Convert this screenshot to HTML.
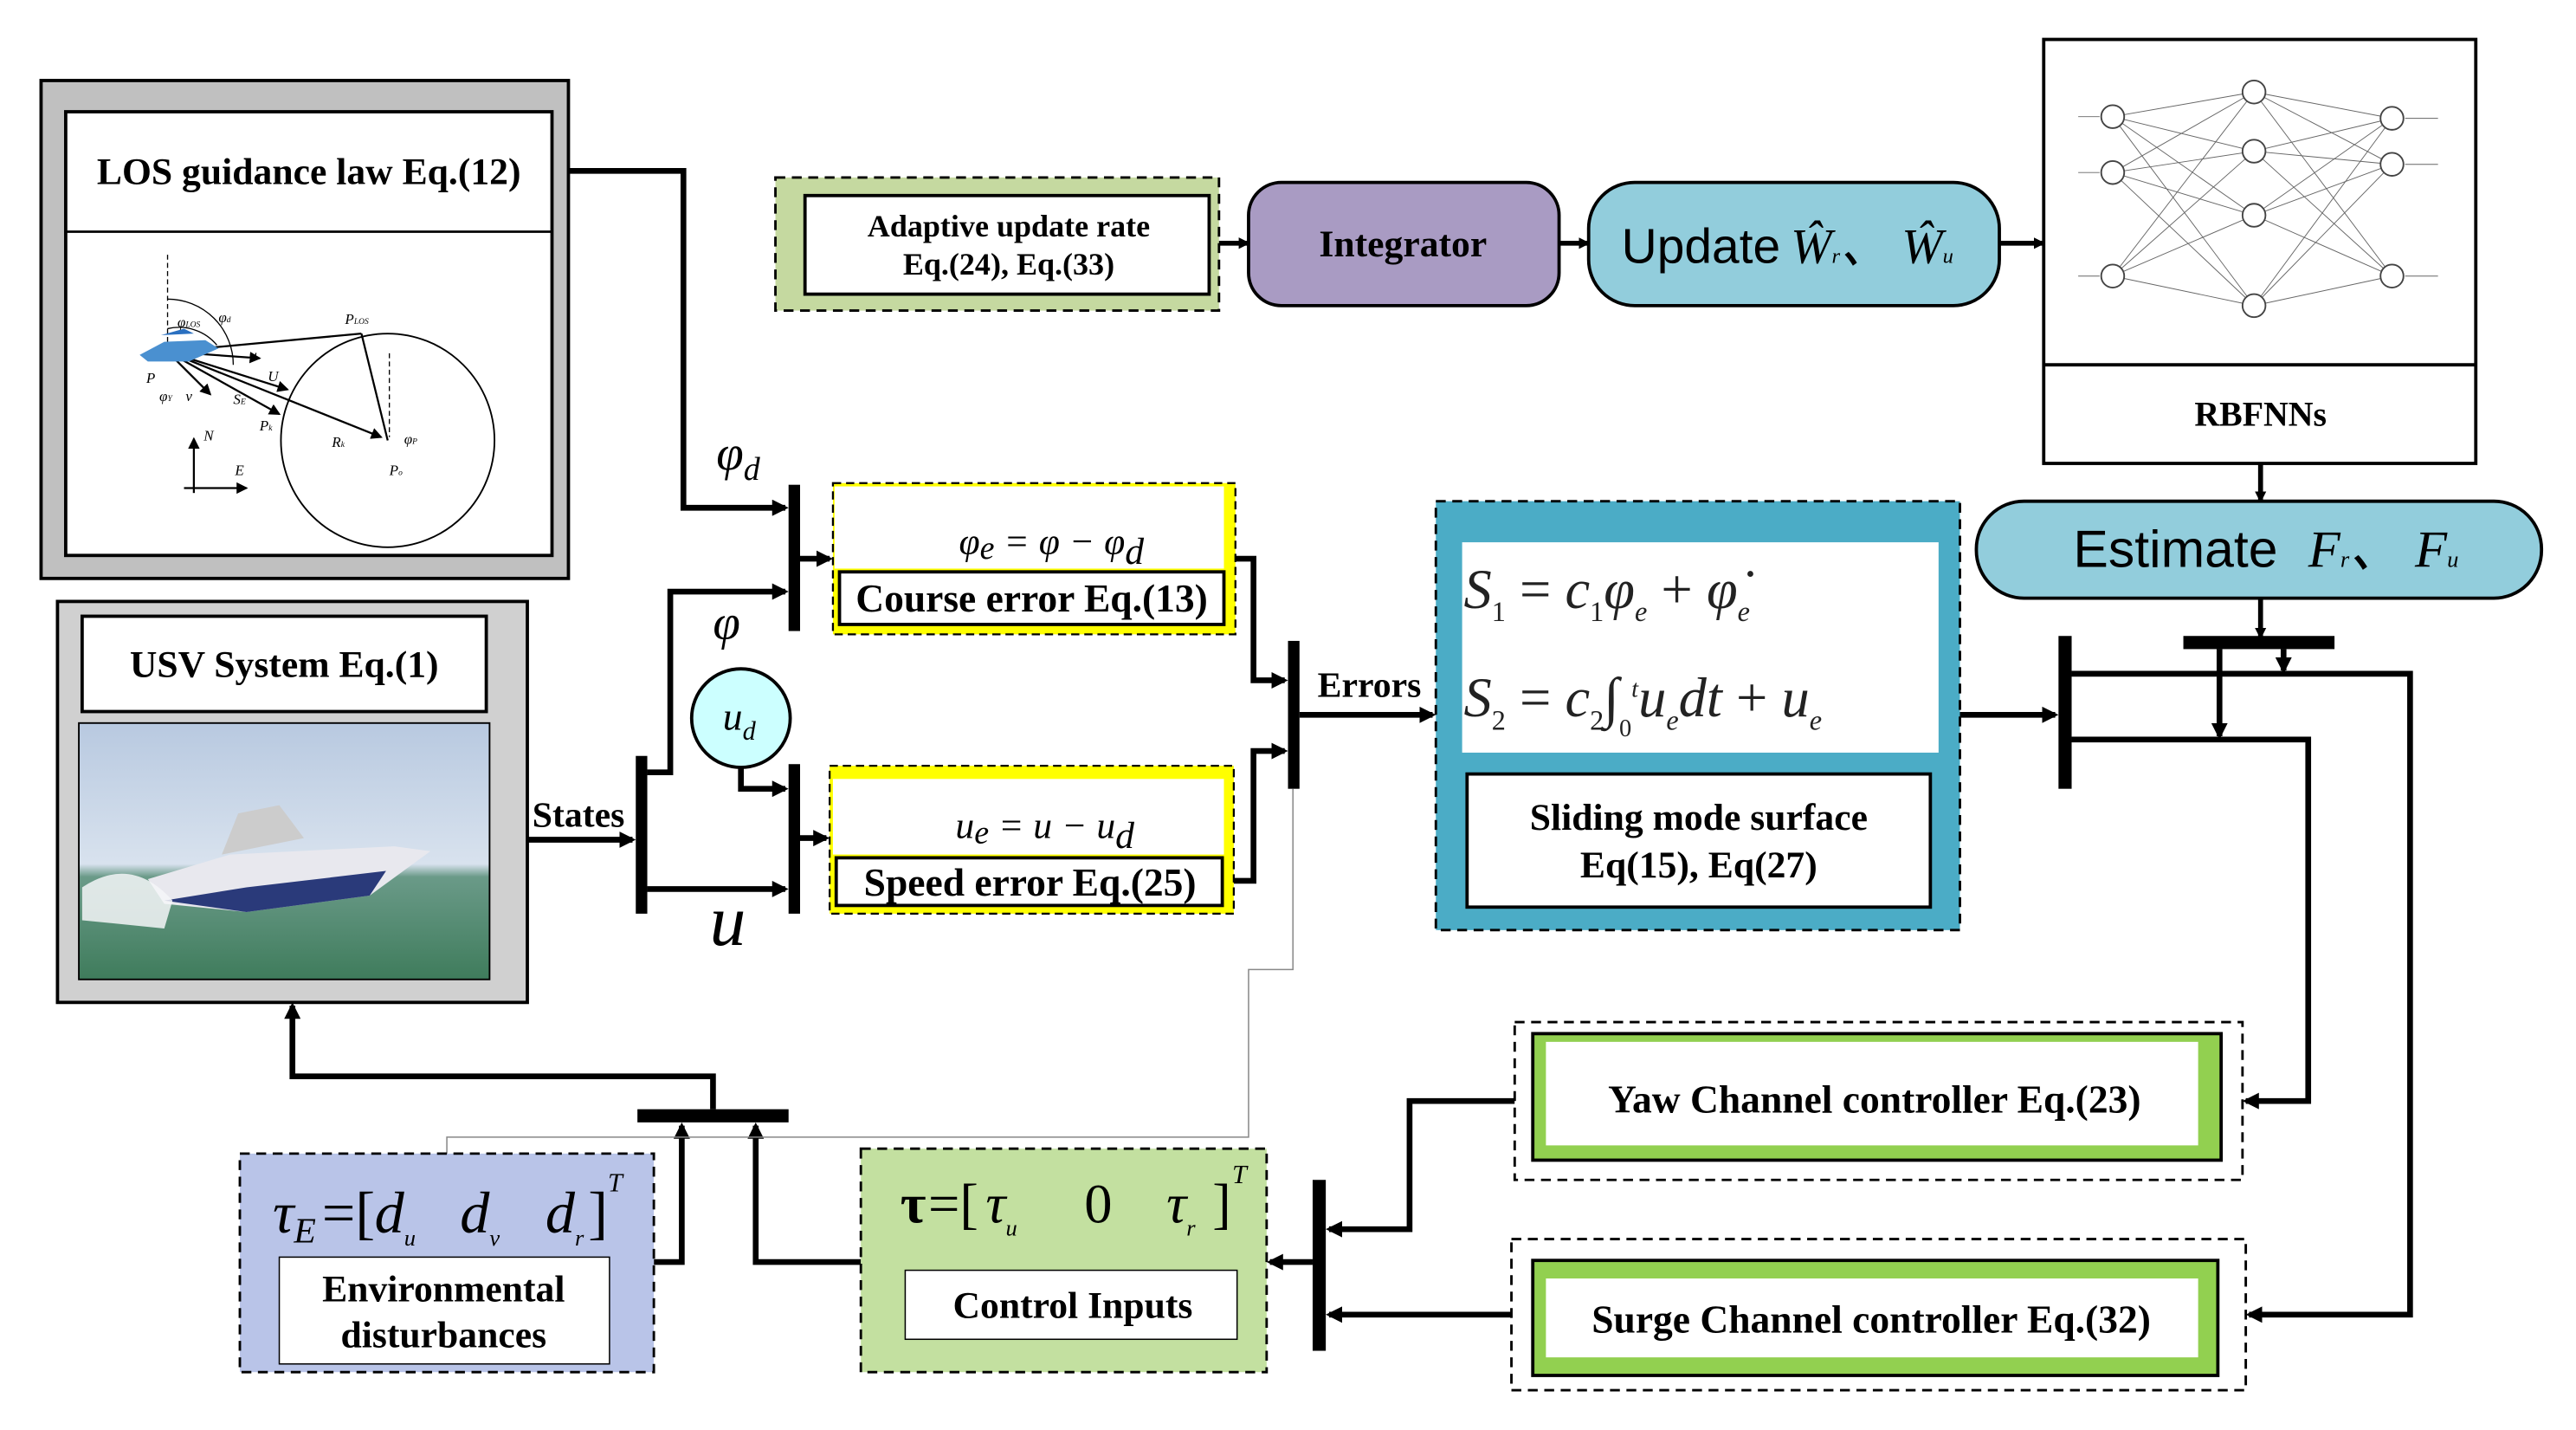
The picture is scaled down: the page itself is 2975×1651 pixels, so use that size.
<!DOCTYPE html>
<html><head><meta charset="utf-8"><style>html,body{margin:0;padding:0;background:#fff}svg{display:block}</style></head>
<body>
<svg width="2975" height="1651" viewBox="0 0 1568 870.2" preserveAspectRatio="none" xmlns="http://www.w3.org/2000/svg" font-family="Liberation Serif, serif">
<defs>
<marker id="a" markerWidth="10" markerHeight="10" refX="8" refY="5" orient="auto" markerUnits="userSpaceOnUse"><path d="M0,0 L10,5 L0,10 z" fill="#000"/></marker>
<marker id="s" markerWidth="7" markerHeight="7" refX="6" refY="3.5" orient="auto" markerUnits="userSpaceOnUse"><path d="M0,0 L7,3.5 L0,7 z" fill="#000"/></marker>
<linearGradient id="sky" x1="0" y1="0" x2="0" y2="1"><stop offset="0" stop-color="#b8c9e0"/><stop offset="0.55" stop-color="#d8e2ee"/><stop offset="0.6" stop-color="#6a9a88"/><stop offset="1" stop-color="#3f7c5c"/></linearGradient>
</defs>
<rect width="1568" height="871" fill="#fff"/>

<!-- LOS box -->
<rect x="25" y="49" width="321" height="303" fill="#c0c0c0" stroke="#000" stroke-width="2"/>
<rect x="40" y="68" width="296" height="270" fill="#fff" stroke="#000" stroke-width="2"/>
<line x1="40" y1="141" x2="336" y2="141" stroke="#000" stroke-width="1.5"/>
<text x="188" y="112" font-size="23" font-weight="bold" text-anchor="middle">LOS guidance law Eq.(12)</text>
<g stroke="#000" fill="none">
<line x1="102" y1="155" x2="102" y2="212" stroke-dasharray="3,2" stroke-width="0.7"/>
<circle cx="236" cy="268" r="65" stroke-width="1"/>
<line x1="237" y1="215" x2="237" y2="266" stroke-dasharray="3,2" stroke-width="0.7"/>
<path d="M102,182 A40,40 0 0 1 142,222" stroke-width="0.7"/>
<path d="M102,200 A30,30 0 0 1 132,210" stroke-width="0.7"/>
<line x1="102" y1="214" x2="220" y2="203" stroke-width="1.2"/>
<line x1="220" y1="203" x2="236" y2="268" stroke-width="1.2"/>
<line x1="102" y1="214" x2="232" y2="266" stroke-width="1.2" marker-end="url(#s)"/>
<line x1="102" y1="214" x2="158" y2="218" stroke-width="1.2" marker-end="url(#s)"/>
<line x1="102" y1="214" x2="175" y2="237" stroke-width="1.2" marker-end="url(#s)"/>
<line x1="102" y1="214" x2="128" y2="240" stroke-width="1.2" marker-end="url(#s)"/>
<line x1="102" y1="214" x2="170" y2="252" stroke-width="1.2" marker-end="url(#s)"/>
<line x1="118" y1="300" x2="118" y2="267" stroke-width="1.2" marker-end="url(#s)"/>
<line x1="112" y1="297" x2="150" y2="297" stroke-width="1.2" marker-end="url(#s)"/>
</g>
<path d="M85,216 L100,208 L125,207 L133,212 L115,220 L90,220 z" fill="#4a90d0"/>
<path d="M98,204 L112,200 L118,203 z" fill="#2a70c0"/>
<g font-size="9" font-style="italic">
<text x="89" y="233">P</text><text x="108" y="199">φ<tspan font-size="5">LOS</tspan></text><text x="133" y="196">φ<tspan font-size="5">d</tspan></text>
<text x="152" y="219">u</text><text x="163" y="232">U</text><text x="142" y="246">S<tspan font-size="5">E</tspan></text><text x="158" y="262">P<tspan font-size="5">k</tspan></text>
<text x="202" y="272">R<tspan font-size="5">k</tspan></text><text x="210" y="197">P<tspan font-size="5">LOS</tspan></text><text x="246" y="270">φ<tspan font-size="5">P</tspan></text><text x="237" y="289">P<tspan font-size="5">o</tspan></text>
<text x="97" y="244">φ<tspan font-size="5">Y</tspan></text><text x="113" y="244">v</text><text x="124" y="268">N</text><text x="143" y="289">E</text>
</g>

<!-- USV box -->
<rect x="35" y="366" width="286" height="244" fill="#d0d0d0" stroke="#000" stroke-width="2"/>
<rect x="50" y="375" width="246" height="58" fill="#fff" stroke="#000" stroke-width="2"/>
<text x="173" y="412" font-size="23" font-weight="bold" text-anchor="middle">USV System Eq.(1)</text>
<rect x="48" y="440" width="250" height="156" fill="url(#sky)" stroke="#000" stroke-width="1"/>
<path d="M90,535 L140,520 L240,515 L262,518 L225,545 L150,555 L100,550 z" fill="#e8e8ee"/>
<path d="M100,548 L150,540 L235,530 L225,545 L150,555 z" fill="#2a3a7a"/>
<path d="M135,520 L145,495 L170,490 L185,510 z" fill="#ccc"/>
<path d="M50,540 Q80,520 105,548 L100,565 L50,560 z" fill="#f4f6f8" opacity="0.85"/>

<!-- top row -->
<rect x="472" y="108" width="270" height="81" fill="#c5d9a0" stroke="#000" stroke-width="1.5" stroke-dasharray="6,4"/>
<rect x="490" y="119" width="246" height="60" fill="#fff" stroke="#000" stroke-width="2"/>
<text x="614" y="144" font-size="19" font-weight="bold" text-anchor="middle">Adaptive update rate</text>
<text x="614" y="167" font-size="19" font-weight="bold" text-anchor="middle">Eq.(24),  Eq.(33)</text>
<rect x="760" y="111" width="189" height="75" rx="20" fill="#a99bc3" stroke="#000" stroke-width="2"/>
<text x="854" y="156" font-size="23" font-weight="bold" text-anchor="middle">Integrator</text>
<rect x="967" y="111" width="250" height="75" rx="28" fill="#92cddc" stroke="#000" stroke-width="2"/>
<text x="987" y="160" font-size="30" font-family="Liberation Sans, sans-serif">Update</text>
<text x="1090" y="160" font-size="30" font-style="italic">Ŵ<tspan font-size="13">r</tspan>、 Ŵ<tspan font-size="13">u</tspan></text>
<line x1="742" y1="148" x2="760" y2="148" stroke="#000" stroke-width="3" marker-end="url(#s)"/>
<line x1="949" y1="148" x2="967" y2="148" stroke="#000" stroke-width="3" marker-end="url(#s)"/>
<line x1="1217" y1="148" x2="1244" y2="148" stroke="#000" stroke-width="3" marker-end="url(#s)"/>

<!-- RBFNN -->
<rect x="1244" y="24" width="263" height="258" fill="#fff" stroke="#000" stroke-width="2"/>
<line x1="1244" y1="222" x2="1507" y2="222" stroke="#000" stroke-width="2"/>
<text x="1376" y="259" font-size="21" font-weight="bold" text-anchor="middle">RBFNNs</text>
<g stroke="#666" stroke-width="0.5">
<path d="M1286,71 L1372,56 M1286,71 L1372,92 M1286,71 L1372,131 M1286,71 L1372,186 M1286,105 L1372,56 M1286,105 L1372,92 M1286,105 L1372,131 M1286,105 L1372,186 M1286,168 L1372,56 M1286,168 L1372,92 M1286,168 L1372,131 M1286,168 L1372,186"/>
<path d="M1456,72 L1372,56 M1456,72 L1372,92 M1456,72 L1372,131 M1456,72 L1372,186 M1456,100 L1372,56 M1456,100 L1372,92 M1456,100 L1372,131 M1456,100 L1372,186 M1456,168 L1372,56 M1456,168 L1372,92 M1456,168 L1372,131 M1456,168 L1372,186"/>
<path d="M1265,71 L1278,71 M1265,105 L1278,105 M1265,168 L1278,168 M1464,72 L1484,72 M1464,100 L1484,100 M1464,168 L1484,168"/>
</g>
<g fill="#fff" stroke="#444" stroke-width="1">
<circle cx="1286" cy="71" r="7"/><circle cx="1286" cy="105" r="7"/><circle cx="1286" cy="168" r="7"/>
<circle cx="1372" cy="56" r="7"/><circle cx="1372" cy="92" r="7"/><circle cx="1372" cy="131" r="7"/><circle cx="1372" cy="186" r="7"/>
<circle cx="1456" cy="72" r="7"/><circle cx="1456" cy="100" r="7"/><circle cx="1456" cy="168" r="7"/>
</g>

<!-- Estimate -->
<rect x="1203" y="305" width="344" height="59" rx="29" fill="#92cddc" stroke="#000" stroke-width="2"/>
<text x="1262" y="345" font-size="32" font-family="Liberation Sans, sans-serif">Estimate</text>
<text x="1405" y="345" font-size="32" font-style="italic">F<tspan font-size="14">r</tspan>、 F<tspan font-size="14">u</tspan></text>
<line x1="1376" y1="282" x2="1376" y2="305" stroke="#000" stroke-width="3" marker-end="url(#s)"/>
<line x1="1376" y1="364" x2="1376" y2="388" stroke="#000" stroke-width="3" marker-end="url(#s)"/>
<rect x="1329" y="387" width="92" height="8" fill="#000"/>

<!-- error boxes -->
<rect x="507" y="294" width="245" height="92" fill="#ffff00" stroke="#000" stroke-width="1.2" stroke-dasharray="5,3"/>
<rect x="508" y="296" width="237" height="50" fill="#fff"/>
<rect x="511" y="348" width="234" height="32" fill="#fff" stroke="#000" stroke-width="2"/>
<text x="640" y="337" font-size="23" font-style="italic" text-anchor="middle">φ<tspan font-size="20" dy="3">e</tspan><tspan dy="-3"> = φ − φ</tspan><tspan dy="6">d</tspan></text>
<text x="628" y="372" font-size="24" font-weight="bold" text-anchor="middle">Course error Eq.(13)</text>
<rect x="505" y="466" width="246" height="90" fill="#ffff00" stroke="#000" stroke-width="1.2" stroke-dasharray="5,3"/>
<rect x="507" y="474" width="238" height="46" fill="#fff"/>
<rect x="509" y="522" width="235" height="29" fill="#fff" stroke="#000" stroke-width="2"/>
<text x="636" y="510" font-size="23" font-style="italic" text-anchor="middle">u<tspan font-size="20" dy="3">e</tspan><tspan dy="-3"> = u − u</tspan><tspan dy="6">d</tspan></text>
<text x="627" y="545" font-size="24" font-weight="bold" text-anchor="middle">Speed error Eq.(25)</text>

<!-- bars -->
<rect x="480" y="295" width="7" height="89" fill="#000"/>
<rect x="480" y="465" width="7" height="91" fill="#000"/>
<rect x="387" y="460" width="7" height="96" fill="#000"/>
<rect x="784" y="390" width="7" height="90" fill="#000"/>
<rect x="1253" y="387" width="8" height="93" fill="#000"/>
<rect x="799" y="718" width="8" height="104" fill="#000"/>
<rect x="388" y="675" width="92" height="8" fill="#000"/>

<g stroke="#000" stroke-width="3.5" fill="none">
<polyline points="346,104 416,104 416,309 478,309" marker-end="url(#a)"/>
<polyline points="394,470 408,470 408,360 478,360" marker-end="url(#a)"/>
<polyline points="394,541 478,541" marker-end="url(#a)"/>
<polyline points="451,467 451,480 478,480" marker-end="url(#a)"/>
<polyline points="321,511 385,511" marker-end="url(#a)"/>
<polyline points="487,340 505,340" marker-end="url(#a)"/>
<polyline points="487,510 503,510" marker-end="url(#a)"/>
<polyline points="752,340 763,340 763,414 782,414" marker-end="url(#a)"/>
<polyline points="751,536 763,536 763,457 782,457" marker-end="url(#a)"/>
<polyline points="791,435 872,435" marker-end="url(#a)"/>
<polyline points="1193,435 1251,435" marker-end="url(#a)"/>
<polyline points="1261,410 1467,410 1467,800 1369,800" marker-end="url(#a)"/>
<polyline points="1261,450 1405,450 1405,670 1367,670" marker-end="url(#a)"/>
<polyline points="1351,395 1351,448" marker-end="url(#a)"/>
<polyline points="1390,395 1390,408" marker-end="url(#a)"/>
<polyline points="922,670 858,670 858,748 809,748" marker-end="url(#a)"/>
<polyline points="920,800 809,800" marker-end="url(#a)"/>
<polyline points="799,768 773,768" marker-end="url(#a)"/>
<polyline points="524,768 460,768 460,685" marker-end="url(#a)"/>
<polyline points="398,768 415,768 415,685" marker-end="url(#a)"/>
<polyline points="434,675 434,655 178,655 178,612" marker-end="url(#a)"/>
</g>
<polyline points="787,480 787,590 760,590 760,692 272,692 272,702" stroke="#888" stroke-width="0.8" fill="none"/>

<circle cx="451" cy="437" r="30" fill="#ccffff" stroke="#000" stroke-width="2"/>
<text x="440" y="444" font-size="24" font-style="italic">u<tspan font-size="16" dy="6">d</tspan></text>
<text x="436" y="286" font-size="30" font-style="italic">φ<tspan font-size="20" dy="6">d</tspan></text>
<text x="434" y="389" font-size="30" font-style="italic">φ</text>
<text x="432" y="575" font-size="44" font-style="italic">u</text>
<text x="324" y="503" font-size="22" font-weight="bold">States</text>
<text x="802" y="424" font-size="22" font-weight="bold">Errors</text>

<!-- sliding -->
<rect x="874" y="305" width="319" height="261" fill="#4bacc6" stroke="#000" stroke-width="1.5" stroke-dasharray="6,4"/>
<rect x="890" y="330" width="290" height="128" fill="#fff"/>
<rect x="893" y="471" width="282" height="81" fill="#fff" stroke="#000" stroke-width="2"/>
<text x="891" y="370" font-size="34" font-style="italic" fill="#222">S<tspan font-size="17" dy="8" font-style="normal">1</tspan><tspan dy="-8" font-style="normal"> = </tspan>c<tspan font-size="17" dy="8" font-style="normal">1</tspan><tspan dy="-8">φ</tspan><tspan font-size="17" dy="8">e</tspan><tspan dy="-8" font-style="normal"> + </tspan>φ̇<tspan font-size="17" dy="8">e</tspan></text>
<text x="891" y="436" font-size="34" font-style="italic" fill="#222">S<tspan font-size="17" dy="8" font-style="normal">2</tspan><tspan dy="-8" font-style="normal"> = </tspan>c<tspan font-size="17" dy="8" font-style="normal">2</tspan><tspan dy="-8" font-style="normal">∫</tspan><tspan font-size="15" dy="12" font-style="normal">0</tspan><tspan font-size="15" dy="-24">t</tspan><tspan dy="12">u</tspan><tspan font-size="17" dy="8">e</tspan><tspan dy="-8">dt</tspan><tspan font-style="normal"> + </tspan>u<tspan font-size="17" dy="8">e</tspan></text>
<text x="1034" y="505" font-size="23" font-weight="bold" text-anchor="middle">Sliding mode surface</text>
<text x="1034" y="534" font-size="23" font-weight="bold" text-anchor="middle">Eq(15), Eq(27)</text>

<!-- controllers -->
<rect x="922" y="622" width="443" height="96" fill="#fff" stroke="#000" stroke-width="1.5" stroke-dasharray="6,4"/>
<rect x="933" y="629" width="419" height="77" fill="#92d050" stroke="#000" stroke-width="2"/>
<rect x="941" y="634" width="397" height="63" fill="#fff"/>
<text x="1141" y="677" font-size="24" font-weight="bold" text-anchor="middle">Yaw Channel controller Eq.(23)</text>
<rect x="920" y="754" width="447" height="92" fill="#fff" stroke="#000" stroke-width="1.5" stroke-dasharray="6,4"/>
<rect x="933" y="767" width="417" height="70" fill="#92d050" stroke="#000" stroke-width="2"/>
<rect x="941" y="778" width="397" height="48" fill="#fff"/>
<text x="1139" y="811" font-size="24" font-weight="bold" text-anchor="middle">Surge Channel controller Eq.(32)</text>

<!-- control inputs -->
<rect x="524" y="699" width="247" height="136" fill="#c3e0a0" stroke="#000" stroke-width="1.5" stroke-dasharray="6,4"/>
<rect x="551" y="773" width="202" height="42" fill="#fff" stroke="#000" stroke-width="0.8"/>
<text x="653" y="802" font-size="23" font-weight="bold" text-anchor="middle">Control Inputs</text>
<g font-size="34">
<text x="548" y="744" font-weight="bold">τ</text>
<text x="565" y="744">=[</text>
<text x="600" y="744" font-style="italic">τ<tspan font-size="14" dy="8">u</tspan></text>
<text x="660" y="744">0</text>
<text x="710" y="744" font-style="italic">τ<tspan font-size="14" dy="8">r</tspan></text>
<text x="738" y="744">]</text>
<text x="750" y="720" font-size="16" font-style="italic">T</text>
</g>

<!-- env -->
<rect x="146" y="702" width="252" height="133" fill="#b9c4e8" stroke="#000" stroke-width="1.5" stroke-dasharray="6,4"/>
<rect x="170" y="765" width="201" height="65" fill="#fff" stroke="#000" stroke-width="0.8"/>
<text x="270" y="792" font-size="23" font-weight="bold" text-anchor="middle">Environmental</text>
<text x="270" y="820" font-size="23" font-weight="bold" text-anchor="middle">disturbances</text>
<g font-size="36" font-style="italic">
<text x="166" y="750">τ<tspan font-size="22" dy="6">E</tspan></text>
<text x="196" y="750" font-style="normal">=[</text>
<text x="228" y="750">d<tspan font-size="14" dy="8">u</tspan></text>
<text x="280" y="750">d<tspan font-size="14" dy="8">v</tspan></text>
<text x="332" y="750">d<tspan font-size="14" dy="8">r</tspan></text>
<text x="358" y="750" font-style="normal">]</text>
<text x="370" y="725" font-size="16">T</text>
</g>
</svg>
</body></html>
